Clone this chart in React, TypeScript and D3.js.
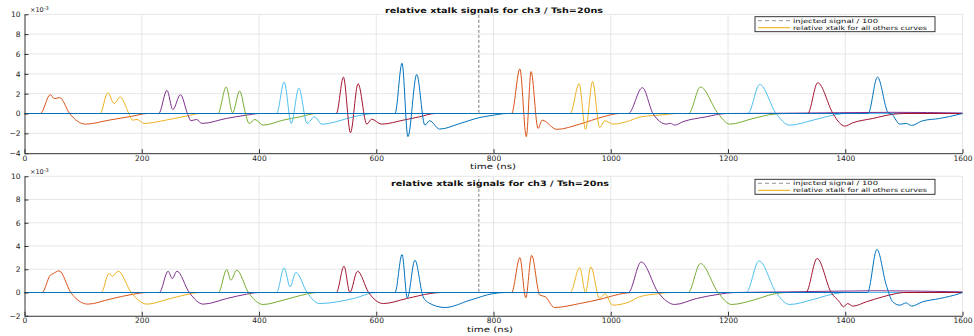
import React, { useEffect, useRef } from 'react';
import * as d3 from 'd3';

type Pt = [number, number];

const colors = ['#D95319', '#EDB120', '#7E2F8E', '#77AC30', '#4DBEEE', '#A2142F', '#0072BD'];

const xTicks = [0, 200, 400, 600, 800, 1000, 1200, 1400, 1600];
const yTicksTop = [-4, -2, 0, 2, 4, 6, 8, 10];
const yTicksBottom = [-2, 0, 2, 4, 6, 8, 10];

const titleText = 'relative xtalk signals for ch3 / Tsh=20ns';
const xLabel = 'time (ns)';
const legendLabels = ['injected signal / 100', 'relative xtalk for all others curves'];

// injected signal / 100 (step at t≈775, goes off the top of the view)
const injected: Pt[] = [[0, 0], [775, 0], [775, 14], [1600, 14]];

// ---- top panel, values in 1e-3 ----
const top1: Pt[] = [[0, 0], [27, 0], [44, 1.9], [51, 1.5], [60, 1.6], [77, 0], [104, -1.07], [144, -0.67], [184, -0.27], [210, 0], [1600, 0]];
const top2: Pt[] = [[0, 0], [129, 0], [142, 2.1], [153, 1.0], [163, 1.67], [178, 0], [184, -0.67], [192, -0.6], [204, -1.0], [241, -0.67], [275, -0.27], [300, 0], [1600, 0]];
const top3: Pt[] = [[0, 0], [229, 0], [243, 2.33], [253, 0.4], [266, 1.9], [278, 0], [284, -0.73], [293, -0.6], [303, -1.0], [344, -0.5], [378, -0.17], [401, 0], [1600, 0]];
const top4: Pt[] = [[0, 0], [330, 0], [344, 2.67], [355, 0.07], [367, 2.27], [377, 0], [383, -1.0], [393, -0.6], [407, -1.17], [441, -0.67], [470, -0.33], [498, 0], [1600, 0]];
const top5: Pt[] = [[0, 0], [430, 0], [443, 3.17], [455, -1.0], [468, 2.57], [482, -1.0], [495, -0.33], [507, -1.07], [530, -0.85], [561, -0.33], [600, 0], [1600, 0]];
const top6: Pt[] = [[0, 0], [532, 0], [544, 3.67], [556, -1.93], [569, 3.0], [584, -1.07], [592, -0.57], [609, -1.07], [646, -0.67], [674, -0.33], [700, 0], [1600, 0]];
const top7: Pt[] = [[0, 0], [632, 0], [644, 5.07], [654, -2.33], [669, 3.93], [683, -1.17], [691, -0.73], [708, -1.57], [743, -1.0], [777, -0.4], [800, -0.17], [822, 0], [1600, 0]];
const top8: Pt[] = [[0, 0], [831, 0], [845, 4.5], [856, -2.33], [864, 4.23], [876, -1.5], [883, -0.67], [908, -1.6], [947, -1.07], [987, -0.33], [1015, 0], [1600, 0]];
const top9: Pt[] = [[0, 0], [931, 0], [946, 3.0], [957, -1.6], [969, 3.23], [981, -1.4], [990, -0.73], [1004, -1.07], [1032, -0.73], [1050, -0.35], [1095, -0.1], [1110, 0], [1600, 0]];
const top10: Pt[] = [[0, 0], [1030, 0], [1054, 2.6], [1072, 0], [1095, -1.07], [1102, -0.98], [1109, -1.17], [1123, -0.83], [1163, -0.33], [1197, 0], [1300, 0.03], [1480, 0.12], [1540, 0.1], [1600, 0.05]];
const top11: Pt[] = [[0, 0], [1133, 0], [1153, 2.67], [1183, 0], [1203, -1.07], [1243, -0.5], [1277, -0.07], [1300, 0], [1600, 0]];
const top12: Pt[] = [[0, 0], [1234, 0], [1254, 2.93], [1282, 0], [1305, -1.17], [1345, -0.67], [1379, -0.17], [1400, 0], [1600, 0]];
const top13: Pt[] = [[0, 0], [1336, 0], [1353, 3.1], [1379, 0], [1390, -0.93], [1399, -1.27], [1413, -0.93], [1447, -0.5], [1482, -0.07], [1500, 0], [1600, 0]];
const top14: Pt[] = [[0, 0], [1439, 0], [1455, 3.67], [1473, 0.1], [1480, -0.1], [1493, -1.07], [1504, -1.0], [1513, -1.2], [1532, -0.73], [1561, -0.5], [1595, -0.07], [1600, 0]];

// ---- bottom panel, values in 1e-3 ----
const bot1: Pt[] = [[0, 0], [30, 0], [44, 1.49], [49, 1.63], [59, 1.86], [79, 0], [108, -1.0], [146, -0.57], [186, -0.14], [210, 0], [1600, 0]];
const bot2: Pt[] = [[0, 0], [131, 0], [144, 1.63], [150, 1.4], [160, 1.83], [182, 0], [209, -1.0], [243, -0.6], [277, -0.17], [300, 0], [1600, 0]];
const bot3: Pt[] = [[0, 0], [230, 0], [245, 1.83], [252, 1.2], [260, 1.83], [281, 0], [305, -1.0], [345, -0.52], [379, -0.14], [400, 0], [1600, 0]];
const bot4: Pt[] = [[0, 0], [331, 0], [345, 1.98], [352, 1.06], [362, 1.92], [382, 0], [407, -1.03], [441, -0.66], [481, -0.14], [500, 0], [1600, 0]];
const bot5: Pt[] = [[0, 0], [430, 0], [443, 2.12], [453, 0.49], [463, 1.72], [482, 0], [503, -0.95], [561, -0.52], [600, 0], [1600, 0]];
const bot6: Pt[] = [[0, 0], [532, 0], [545, 2.26], [555, 0.0], [568, 1.83], [587, 0], [612, -0.95], [652, -0.52], [692, -0.09], [710, 0], [1600, 0]];
const bot7: Pt[] = [[0, 0], [632, 0], [644, 3.27], [653, -0.46], [666, 2.78], [680, -0.37], [690, -0.9], [717, -1.29], [760, -0.66], [800, -0.09], [820, 0], [1600, 0]];
const bot8: Pt[] = [[0, 0], [831, 0], [845, 3.0], [855, -0.46], [865, 3.2], [879, -0.23], [888, -0.35], [904, -1.29], [947, -0.95], [987, -0.52], [1015, -0.14], [1040, 0], [1600, 0]];
const bot9: Pt[] = [[0, 0], [931, 0], [947, 2.15], [957, 0.0], [966, 2.2], [981, -0.52], [990, -0.1], [1003, -1.09], [1032, -0.8], [1049, -0.37], [1084, -0.09], [1100, 0], [1600, 0]];
const bot10: Pt[] = [[0, 0], [1030, 0], [1052, 2.63], [1081, 0], [1109, -1.03], [1146, -0.52], [1186, -0.14], [1210, 0], [1300, 0.05], [1450, 0.15], [1550, 0.1], [1600, 0.05]];
const bot11: Pt[] = [[0, 0], [1132, 0], [1153, 2.49], [1183, 0], [1206, -1.03], [1243, -0.66], [1277, -0.14], [1300, 0], [1600, 0]];
const bot12: Pt[] = [[0, 0], [1231, 0], [1253, 2.72], [1282, 0], [1305, -1.03], [1345, -0.6], [1379, -0.14], [1400, 0], [1600, 0]];
const bot13: Pt[] = [[0, 0], [1333, 0], [1352, 2.92], [1376, 0], [1390, -0.8], [1397, -1.23], [1404, -0.95], [1413, -1.17], [1436, -0.8], [1464, -0.37], [1487, -0.09], [1500, 0], [1600, 0]];
const bot14: Pt[] = [[0, 0], [1438, 0], [1454, 3.7], [1470, 0.63], [1481, -0.8], [1493, -1.09], [1504, -0.89], [1513, -1.17], [1532, -0.8], [1561, -0.52], [1595, -0.09], [1600, 0]];

const topCurves = [top1, top2, top3, top4, top5, top6, top7, top8, top9, top10, top11, top12, top13, top14];
const botCurves = [bot1, bot2, bot3, bot4, bot5, bot6, bot7, bot8, bot9, bot10, bot11, bot12, bot13, bot14];

const FONT = 'DejaVu Sans, Arial, sans-serif';

interface PanelOpts {
  id: string;
  yTop: number;
  yBottom: number;
  yDomain: [number, number];
  yTicks: number[];
  curves: Pt[][];
  titleX: number;
  titleY: number;
  labelX: number;
  labelY: number;
  expY: number;
  legendY: number;
}

const drawPanel = (svg: d3.Selection<SVGSVGElement, unknown, null, undefined>, o: PanelOpts) => {
  const x = d3.scaleLinear().domain([0, 1600]).range([24.5, 962.5]);
  const y = d3.scaleLinear().domain(o.yDomain).range([o.yBottom, o.yTop]);
  const g = svg.append('g');

  // grid
  g.append('g').selectAll('line').data(xTicks.slice(1)).enter().append('line')
    .attr('x1', d => x(d)).attr('x2', d => x(d))
    .attr('y1', o.yTop).attr('y2', o.yBottom)
    .attr('stroke', '#e3e3e3').attr('stroke-width', 0.9);
  g.append('g').selectAll('line').data(o.yTicks.slice(1)).enter().append('line')
    .attr('x1', x(0)).attr('x2', x(1600))
    .attr('y1', d => y(d)).attr('y2', d => y(d))
    .attr('stroke', '#e3e3e3').attr('stroke-width', 0.9);

  // curves
  svg.append('clipPath').attr('id', `clip-${o.id}`).append('rect')
    .attr('x', x(0)).attr('y', o.yTop).attr('width', x(1600) - x(0)).attr('height', o.yBottom - o.yTop);
  const plot = g.append('g').attr('clip-path', `url(#clip-${o.id})`);
  const line = d3.line<Pt>().x(d => x(d[0])).y(d => y(d[1])).curve(d3.curveMonotoneX);

  const stepLine = d3.line<Pt>().x(d => x(d[0])).y(d => y(d[1]));
  plot.append('path').attr('d', stepLine(injected) || '')
    .attr('fill', 'none').attr('stroke', '#6e6e6e')
    .attr('stroke-width', 0.9).attr('stroke-dasharray', '3,2');

  o.curves.forEach((c, i) => {
    plot.append('path').attr('d', line(c) || '')
      .attr('fill', 'none').attr('stroke', colors[i % colors.length])
      .attr('stroke-width', 1).attr('stroke-linejoin', 'round');
  });

  // axes
  const fmt = d3.format('d');
  const ax = g.append('g').attr('transform', `translate(0,${o.yBottom})`)
    .call(d3.axisBottom(x).tickValues(xTicks).tickFormat(d => fmt(d as number)).tickSize(-4).tickSizeOuter(0).tickPadding(2));
  const ay = g.append('g').attr('transform', `translate(${x(0)},0)`)
    .call(d3.axisLeft(y).tickValues(o.yTicks).tickFormat(d => fmt(d as number)).tickSize(-4).tickSizeOuter(0).tickPadding(4));
  [ax, ay].forEach(a => {
    a.select('.domain').attr('stroke', '#333').attr('stroke-width', 1);
    a.selectAll('.tick line').attr('stroke', '#333');
    a.selectAll('.tick text').attr('font-family', FONT).attr('font-size', 7.5).attr('fill', '#222');
  });

  // exponent
  const ex = g.append('text').attr('x', 30).attr('y', o.expY)
    .attr('font-family', FONT).attr('font-size', 6.5).attr('fill', '#222');
  ex.append('tspan').text('×10');
  ex.append('tspan').attr('font-size', 5).attr('dy', -2.5).text('-3');

  // title and x label
  g.append('text').attr('x', o.titleX).attr('y', o.titleY).attr('text-anchor', 'middle')
    .attr('font-family', FONT).attr('font-weight', 'bold').attr('font-size', 7.5)
    .attr('textLength', 218).attr('lengthAdjust', 'spacingAndGlyphs').attr('fill', '#111')
    .text(titleText);
  g.append('text').attr('x', o.labelX).attr('y', o.labelY).attr('text-anchor', 'middle')
    .attr('font-family', FONT).attr('font-size', 7.5).attr('fill', '#111')
    .attr('textLength', 46).attr('lengthAdjust', 'spacingAndGlyphs')
    .text(xLabel);

  // legend
  const lg = g.append('g').attr('transform', `translate(755,${o.legendY})`);
  lg.append('rect').attr('x', 0).attr('y', 0).attr('width', 180).attr('height', 15)
    .attr('fill', 'white').attr('stroke', '#222').attr('stroke-width', 0.9);
  lg.append('line').attr('x1', 3).attr('x2', 35).attr('y1', 4).attr('y2', 4)
    .attr('stroke', '#888').attr('stroke-width', 0.9).attr('stroke-dasharray', '4,3');
  lg.append('line').attr('x1', 3).attr('x2', 35).attr('y1', 11).attr('y2', 11)
    .attr('stroke', '#EDB120').attr('stroke-width', 1.1);
  legendLabels.forEach((t, i) => {
    lg.append('text').attr('x', 38).attr('y', 6 + i * 7.2)
      .attr('font-family', FONT).attr('font-size', 5.8).attr('fill', '#111')
      .attr('textLength', i === 0 ? 85 : 134).attr('lengthAdjust', 'spacingAndGlyphs')
      .text(t);
  });
};

export default function App() {
  const ref = useRef<SVGSVGElement>(null);

  useEffect(() => {
    if (!ref.current) return;
    const svg = d3.select(ref.current);
    svg.selectAll('*').remove();

    drawPanel(svg, {
      id: 'top', yTop: 14.3, yBottom: 153.2, yDomain: [-4, 10], yTicks: yTicksTop, curves: topCurves,
      titleX: 494, titleY: 12.5, labelX: 493, labelY: 169, expY: 12, legendY: 16.7,
    });
    drawPanel(svg, {
      id: 'bot', yTop: 176.25, yBottom: 315.75, yDomain: [-2, 10], yTicks: yTicksBottom, curves: botCurves,
      titleX: 500, titleY: 186, labelX: 490, labelY: 332, expY: 174, legendY: 179.3,
    });
  }, []);

  return (
    <div style={{ position: 'absolute', left: 0, top: 0 }}>
      <svg ref={ref} width={974} height={336} style={{ display: 'block', background: 'white' }} />
    </div>
  );
}
